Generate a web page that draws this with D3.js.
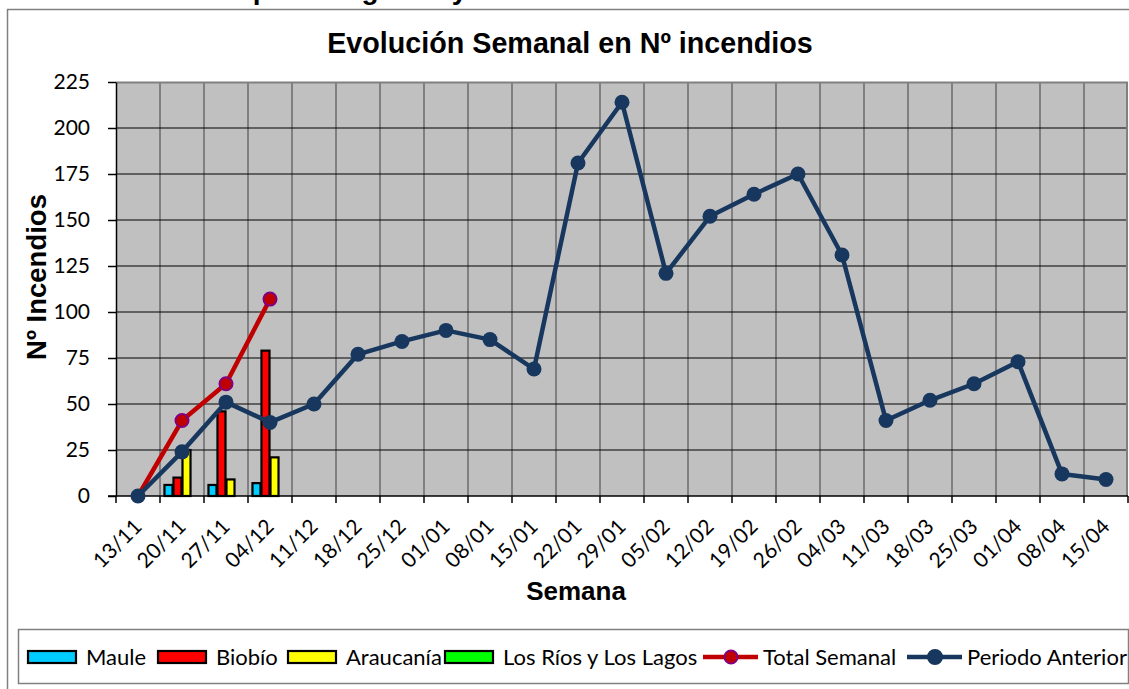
<!DOCTYPE html>
<html>
<head>
<meta charset="utf-8">
<script src="https://cdn.jsdelivr.net/npm/d3@7"></script>
<style>
body{margin:0;background:#fff;}
svg{display:block;}
</style>
</head>
<body>
<div id="chart"></div>
<script>

// weeks on the category axis
var weeks = ["13/11","20/11","27/11","04/12","11/12","18/12","25/12","01/01","08/01","15/01","22/01","29/01",
	"05/02","12/02","19/02","26/02","04/03","11/03","18/03","25/03","01/04","08/04","15/04"];

// bars, current season (first weeks only)
var regions = ["Maule","Biobío","Araucanía","Los Ríos y Los Lagos"];
var maule = [0,6,6,7];
var biobio = [0,10,46,79];
var araucania = [0,25,9,21];
var losRios = [0,0,0,0];

// lines
var totalSemanal = [0,41,61,107];
var periodoAnterior = [0,24,51,40,50,77,84,90,85,69,181,214,121,152,164,175,131,41,52,61,73,12,9];

var yTicks = [0,25,50,75,100,125,150,175,200,225];

var W = 1129, H = 689;
var plot = {l:116, r:1128, t:82, b:496};

var regionColor = {"Maule":"#00ccff","Biobío":"#ff0000","Araucanía":"#ffff00","Los Ríos y Los Lagos":"#00ff00"};
var navy = "#17375e", red = "#c00000";

var svg = d3.select("#chart").append("svg")
	.attr("width",W).attr("height",H)
	.attr("viewBox","0 0 "+W+" "+H);

// outer chart frame (runs off the right/bottom edge)
svg.append("rect").attr("x",7.5).attr("y",9.5).attr("width",1200).attr("height",720)
	.style("fill","#fff").style("stroke","#808080").style("stroke-width",1.5);

// heading of the page above, cut at the top
svg.append("text").attr("x",220).attr("y",-1)
	.style("font-family","'Liberation Sans',Arial,sans-serif").style("font-weight","bold")
	.style("font-size","28px").text("Impacto regional y");

var x = d3.scaleBand().domain(weeks).range([plot.l,plot.r]).padding(0);
var y = d3.scaleLinear().domain([0,225]).range([plot.b,plot.t]);
var xs = d3.scaleBand().domain(regions).range([0,x.bandwidth()]).paddingInner(0).paddingOuter(0.44);

var cx = function(w){ return x(w)+x.bandwidth()/2; };

// plot area
svg.append("rect").attr("x",plot.l).attr("y",plot.t)
	.attr("width",plot.r-plot.l).attr("height",plot.b-plot.t)
	.style("fill","#c0c0c0");

// vertical grid at category boundaries
svg.selectAll(".vgrid").data(weeks.slice(1)).enter().append("line")
	.attr("class","vgrid")
	.attr("x1",function(d){return x(d);}).attr("x2",function(d){return x(d);})
	.attr("y1",plot.t).attr("y2",plot.b)
	.style("stroke","#808080").style("stroke-width",2);

// horizontal grid
svg.selectAll(".hgrid").data(yTicks.filter(function(d){return d>0 && d<225;})).enter().append("line")
	.attr("class","hgrid")
	.attr("x1",plot.l).attr("x2",plot.r)
	.attr("y1",function(d){return y(d);}).attr("y2",function(d){return y(d);})
	.style("stroke","#000").style("stroke-width",1);

// top and right border of plot
svg.append("path")
	.attr("d","M"+plot.l+","+(plot.t+0.5)+"H"+(plot.r-1)+"V"+plot.b)
	.style("fill","none").style("stroke","#808080").style("stroke-width",2);

// bars
var series = [
	{name:"Maule", values:maule},
	{name:"Biobío", values:biobio},
	{name:"Araucanía", values:araucania},
	{name:"Los Ríos y Los Lagos", values:losRios}
];

series.forEach(function(s){
	var pts = s.values.map(function(v,i){ return {week:weeks[i], v:v}; })
		.filter(function(d){ return d.v>0; });
	svg.selectAll(".bar-"+regions.indexOf(s.name)).data(pts).enter().append("rect")
		.attr("x",function(d){return x(d.week)+xs(s.name)+0.5;})
		.attr("width",xs.bandwidth()-1)
		.attr("y",function(d){return y(d.v);})
		.attr("height",function(d){return y(0)-y(d.v);})
		.style("fill",regionColor[s.name])
		.style("stroke","#000").style("stroke-width",2.2);
});

// y axis
var yAxis = svg.append("g").attr("transform","translate("+plot.l+",0)")
	.call(d3.axisLeft(y).tickValues(yTicks).tickSize(8).tickPadding(18).tickSizeOuter(0));
yAxis.select(".domain").style("stroke","#000").style("stroke-width",1.5);
yAxis.selectAll(".tick line").style("stroke","#000").style("stroke-width",1.5);
yAxis.selectAll("text")
	.style("font-family","Lato,'Open Sans',sans-serif").style("font-size","21px").style("fill","#000");

// x axis: line, ticks at band edges, rotated labels at band centres
var xg = svg.append("g");
xg.append("line").attr("x1",plot.l-8).attr("x2",plot.r).attr("y1",plot.b).attr("y2",plot.b)
	.style("stroke","#000").style("stroke-width",1.5);
var edges = weeks.map(function(w){return x(w);}).concat([plot.r]);
xg.selectAll(".xtick").data(edges).enter().append("line")
	.attr("class","xtick")
	.attr("x1",function(d){return d;}).attr("x2",function(d){return d;})
	.attr("y1",plot.b).attr("y2",plot.b+7)
	.style("stroke","#000").style("stroke-width",1.5);
xg.selectAll(".xlab").data(weeks).enter().append("text")
	.attr("class","xlab")
	.attr("transform",function(d){return "translate("+(cx(d)+5)+",528) rotate(-45)";})
	.attr("text-anchor","end")
	.style("font-family","Lato,'Open Sans',sans-serif").style("font-size","21px")
	.text(function(d){return d;});

// lines
var line = d3.line()
	.x(function(d){return cx(d.week);})
	.y(function(d){return y(d.v);});

var tot = totalSemanal.map(function(v,i){return {week:weeks[i], v:v};});
var ant = periodoAnterior.map(function(v,i){return {week:weeks[i], v:v};});

svg.append("path").datum(tot).attr("d",line)
	.style("fill","none").style("stroke",red).style("stroke-width",4.5).style("stroke-linejoin","round");
svg.selectAll(".tot").data(tot.slice(1)).enter().append("circle")
	.attr("class","tot")
	.attr("cx",function(d){return cx(d.week);}).attr("cy",function(d){return y(d.v);})
	.attr("r",6.5)
	.style("fill",red).style("stroke","#800080").style("stroke-width",2);

svg.append("path").datum(ant).attr("d",line)
	.style("fill","none").style("stroke",navy).style("stroke-width",4.5).style("stroke-linejoin","round");
svg.selectAll(".ant").data(ant).enter().append("circle")
	.attr("class","ant")
	.attr("cx",function(d){return cx(d.week);}).attr("cy",function(d){return y(d.v);})
	.attr("r",7.5)
	.style("fill",navy);

// titles
svg.append("text").attr("x",570).attr("y",53).attr("text-anchor","middle")
	.style("font-family","'Liberation Sans',Arial,sans-serif").style("font-weight","bold").style("font-size","28.7px")
	.text("Evolución Semanal en Nº incendios");

svg.append("text").attr("transform","translate(46,277) rotate(-90)").attr("text-anchor","middle")
	.style("font-family","'Liberation Sans',Arial,sans-serif").style("font-weight","bold").style("font-size","27.5px")
	.text("Nº Incendios");

svg.append("text").attr("x",576).attr("y",600).attr("text-anchor","middle")
	.style("font-family","'Liberation Sans',Arial,sans-serif").style("font-weight","bold").style("font-size","26px")
	.text("Semana");

// legend
svg.append("rect").attr("x",18.5).attr("y",629.5).attr("width",1110).attr("height",54)
	.style("fill","#fff").style("stroke","#808080").style("stroke-width",1.5);

var legendItems = [
	{label:"Maule", type:"bar", color:regionColor["Maule"]},
	{label:"Biobío", type:"bar", color:regionColor["Biobío"]},
	{label:"Araucanía", type:"bar", color:regionColor["Araucanía"]},
	{label:"Los Ríos y Los Lagos", type:"bar", color:regionColor["Los Ríos y Los Lagos"]},
	{label:"Total Semanal", type:"line", color:red, marker:"#800080", r:6.5},
	{label:"Periodo Anterior", type:"line", color:navy, marker:navy, r:7}
];
var legendX = [27,157,287,444,703,907];
var ly = 657;

var li = svg.selectAll(".legend").data(legendItems).enter().append("g")
	.attr("class","legend")
	.attr("transform",function(d,i){return "translate("+legendX[i]+","+ly+")";});

li.filter(function(d){return d.type=="bar";}).append("rect")
	.attr("x",1).attr("y",-6).attr("width",48).attr("height",12)
	.style("fill",function(d){return d.color;})
	.style("stroke","#000").style("stroke-width",2.2);

li.filter(function(d){return d.type=="line";}).append("line")
	.attr("x1",0).attr("x2",55).attr("y1",0).attr("y2",0)
	.style("stroke",function(d){return d.color;}).style("stroke-width",4.5);
li.filter(function(d){return d.type=="line";}).append("circle")
	.attr("cx",28).attr("cy",0).attr("r",function(d){return d.r;})
	.style("fill",function(d){return d.color;})
	.style("stroke",function(d){return d.marker;}).style("stroke-width",2);

li.append("text")
	.attr("x",function(d){return d.type=="bar" ? 59 : 60;})
	.attr("y",8)
	.style("font-family","Lato,'Open Sans',sans-serif").style("font-size","22px")
	.text(function(d){return d.label;});

</script>
</body>
</html>
